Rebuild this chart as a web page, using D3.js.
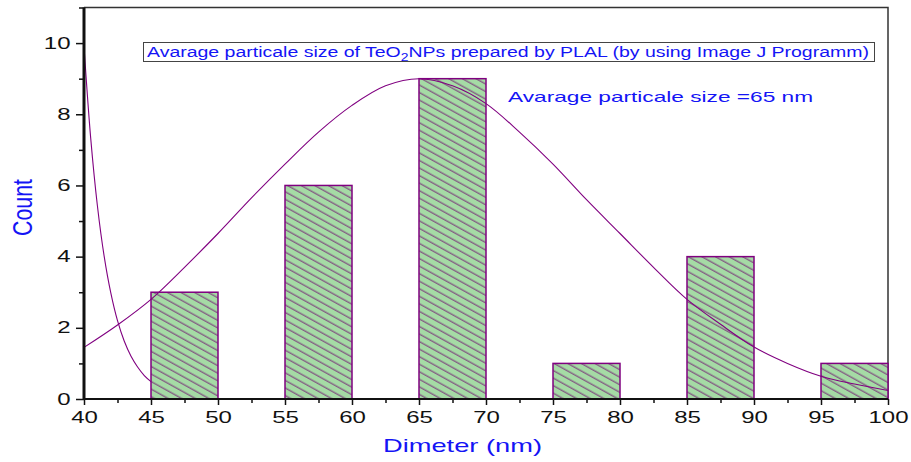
<!DOCTYPE html>
<html>
<head>
<meta charset="utf-8">
<script src="https://cdn.jsdelivr.net/npm/d3@7"></script>
<style>
  body { margin: 0; background: white; }
  text { font-family: "Liberation Sans", Arial, sans-serif; }
</style>
</head>
<body>
<div id="chart"></div>
<script>
// histogram bins (nm) and counts
var binStart = [45, 55, 65, 75, 85, 95];
var binEnd = [50, 60, 70, 80, 90, 100];
var counts = [3, 6, 9, 1, 4, 1];

// gaussian fit
var fitX = [40, 42.5, 45, 47.5, 50, 52.5, 55, 57.5, 60, 62.5, 65, 67.5, 70, 72.5, 75, 77.5, 80, 82.5, 85, 87.5, 90, 92.5, 95, 97.5, 100];
var fitY = [1.45, 2.08, 2.8, 3.7, 4.65, 5.65, 6.6, 7.5, 8.25, 8.8, 9.0, 8.8, 8.3, 7.5, 6.6, 5.6, 4.65, 3.7, 2.8, 2.1, 1.46, 1.0, 0.64, 0.42, 0.24];

// steep decay curve at the left edge
var decayX = [40, 40.5, 41, 41.5, 42, 42.5, 43, 43.5, 44, 44.5, 45];
var decayY = [9.9, 7.33, 5.43, 4.02, 2.98, 2.2, 1.63, 1.21, 0.9, 0.66, 0.49];

var xTicks = [40, 45, 50, 55, 60, 65, 70, 75, 80, 85, 90, 95, 100];
var xMinor = [42.5, 47.5, 52.5, 57.5, 62.5, 67.5, 72.5, 77.5, 82.5, 87.5, 92.5, 97.5];
var yTicks = [0, 2, 4, 6, 8, 10];
var yMinor = [1, 3, 5, 7, 9, 11];

var w = 911, h = 462;
// plot box edges (window.top is reserved, so prefix them)
var pLeft = 84, pRight = 888, pTop = 7.5, pBottom = 399;
var blue = "#1414f5", purple = "#800080";

var svg = d3.select("#chart").append("svg")
    .attr("width", w)
    .attr("height", h);

var x = d3.scaleLinear().domain([40, 100]).range([pLeft, pRight]);
var y = d3.scaleLinear().domain([0, 11]).range([pBottom, pTop]);

// hatch pattern for the bars
var defs = svg.append("defs");
var pat = defs.append("pattern")
    .attr("id", "hatch")
    .attr("patternUnits", "userSpaceOnUse")
    .attr("width", 12)
    .attr("height", 6.6)
    .attr("patternTransform", "rotate(29)");
pat.append("rect")
    .attr("width", 12)
    .attr("height", 6.6)
    .attr("fill", "#a5dba5");
pat.append("line")
    .attr("x1", 0).attr("x2", 12)
    .attr("y1", 3).attr("y2", 3)
    .style("stroke", "#701470")
    .style("stroke-width", 0.9);

// top and right frame
svg.append("path")
    .attr("d", "M" + pLeft + "," + pTop + "H" + pRight + "V" + pBottom)
    .style("fill", "none")
    .style("stroke", "#333")
    .style("stroke-width", 1.5);

// bars
svg.selectAll(".bar")
    .data(counts)
    .enter().append("rect")
    .attr("class", "bar")
    .attr("x", function(d, i) { return x(binStart[i]); })
    .attr("width", function(d, i) { return x(binEnd[i]) - x(binStart[i]); })
    .attr("y", function(d) { return y(d); })
    .attr("height", function(d) { return y(0) - y(d); })
    .attr("fill", "url(#hatch)")
    .style("stroke", purple)
    .style("stroke-width", 1.5);

// curves
var line = d3.line()
    .x(function(d) { return x(d[0]); })
    .y(function(d) { return y(d[1]); })
    .curve(d3.curveCatmullRom);

svg.append("path")
    .attr("d", line(d3.zip(fitX, fitY)))
    .style("fill", "none")
    .style("stroke", purple)
    .style("stroke-width", 1.1);

svg.append("path")
    .attr("d", line(d3.zip(decayX, decayY)))
    .style("fill", "none")
    .style("stroke", purple)
    .style("stroke-width", 1.1);

// axes
var stretch = "scale(1.5,1)";

var xAxis = svg.append("g")
    .attr("transform", "translate(0," + pBottom + ")")
    .call(d3.axisBottom(x).tickValues(xTicks).tickSize(6).tickPadding(7).tickFormat(d3.format("d")));
xAxis.append("g")
    .call(d3.axisBottom(x).tickValues(xMinor).tickSize(4).tickFormat(""))
    .select(".domain").remove();

var yAxis = svg.append("g")
    .attr("transform", "translate(" + pLeft + ",0)")
    .call(d3.axisLeft(y).tickValues(yTicks).tickSize(8).tickPadding(1).tickFormat(d3.format("d")));
yAxis.append("g")
    .call(d3.axisLeft(y).tickValues(yMinor).tickSize(5).tickFormat(""))
    .select(".domain").remove();

svg.selectAll(".tick line")
    .style("stroke", "#111")
    .style("stroke-width", 1.5);
svg.selectAll(".tick text")
    .attr("transform", stretch)
    .style("font-size", "16px")
    .style("fill", "#111");
xAxis.select(".domain").attr("d", "M" + pLeft + ",0H" + pRight)
    .style("stroke", "#111").style("stroke-width", 2);
yAxis.select(".domain").attr("d", "M0," + (pBottom + 1) + "V" + pTop)
    .style("stroke", "#111").style("stroke-width", 3);

// axis titles
svg.append("text")
    .attr("transform", "translate(462.5,452)")
    .attr("text-anchor", "middle")
    .attr("textLength", 159)
    .attr("lengthAdjust", "spacingAndGlyphs")
    .style("font-size", "19px")
    .style("fill", blue)
    .text("Dimeter (nm)");

svg.append("text")
    .attr("transform", "translate(32,207.5) scale(1.4,1) rotate(-90)")
    .attr("text-anchor", "middle")
    .attr("textLength", 57)
    .attr("lengthAdjust", "spacingAndGlyphs")
    .style("font-size", "20px")
    .style("fill", blue)
    .text("Count");

// legend box
svg.append("rect")
    .attr("x", 143.5).attr("y", 42.5)
    .attr("width", 731).attr("height", 19)
    .style("fill", "white")
    .style("stroke", "#444")
    .style("stroke-width", 1);

var title = svg.append("text")
    .attr("x", 147).attr("y", 57)
    .attr("textLength", 722)
    .attr("lengthAdjust", "spacingAndGlyphs")
    .style("font-size", "14px")
    .style("fill", blue);
title.append("tspan").text("Avarage particale size of TeO");
title.append("tspan").attr("dy", 4).style("font-size", "10px").text("2");
title.append("tspan").attr("dy", -4).text("NPs prepared by PLAL (by using Image J Programm)");

// annotation
svg.append("text")
    .attr("x", 508).attr("y", 102)
    .attr("textLength", 305)
    .attr("lengthAdjust", "spacingAndGlyphs")
    .style("font-size", "15px")
    .style("fill", blue)
    .text("Avarage particale size =65 nm");
</script>
</body>
</html>
